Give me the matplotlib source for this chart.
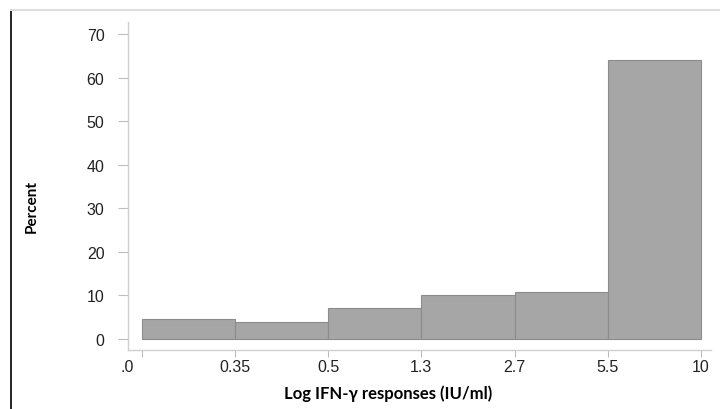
import matplotlib
matplotlib.use("Agg")
import matplotlib.pyplot as plt
from matplotlib.lines import Line2D
import matplotlib.transforms as mtransforms

edge_labels = [".0", "0.35", "0.5", "1.3", "2.7", "5.5", "10"]
percents = [4.5, 3.8, 7.1, 10.1, 10.8, 64.0]
y_ticks = [0, 10, 20, 30, 40, 50, 60, 70]

plt.rcParams['font.family'] = ['Liberation Sans', 'DejaVu Sans']

fig = plt.figure(figsize=(7.2, 4.1), dpi=100)
ax = fig.add_axes([128/720, (410-351)/410, 583/720, 328/410])

edges = list(range(len(edge_labels)))
ax.bar(edges[:-1], percents, width=1.0, align='edge', color='#a6a6a6',
       edgecolor='#8c8c8c', linewidth=0.8)

ax.set_xlim(-0.145, 6.107)
ax.set_ylim(-2.52, 72.75)
ax.set_xticks(edges)
ax.set_xticklabels(edge_labels, fontsize=11.5, color='#222222', family='Liberation Sans')
ax.set_yticks(y_ticks)
ax.set_yticklabels([str(v) for v in y_ticks], fontsize=11.5, color='#222222', family='Liberation Sans')

for s in ['top', 'right']:
    ax.spines[s].set_visible(False)
for s in ['left', 'bottom']:
    ax.spines[s].set_color('#cfcfcf')
    ax.spines[s].set_linewidth(1.0)
ax.tick_params(axis='y', color='#bdbdbd', length=7, width=0.8, pad=10)
ax.tick_params(axis='x', color='#bdbdbd', length=5, width=0.8, pad=1.5)

# shift the first x label to the left
lbl = ax.get_xticklabels()[0]
lbl.set_transform(lbl.get_transform() + mtransforms.ScaledTranslation(-0.145, 0, fig.dpi_scale_trans))

fig.text(32/720, 1 - 207/410, "Percent", rotation=90, ha='center', va='center',
         fontsize=11, fontweight='bold', family=['Lato', 'DejaVu Sans'])
fig.text(388/720, 1 - 394/410, "Log IFN-γ responses (IU/ml)", ha='center', va='center',
         fontsize=12, fontweight='bold', family=['Lato', 'DejaVu Sans'])

# outer frame lines
fig.add_artist(Line2D([11/720, 11/720], [0, 1 - 11/410], transform=fig.transFigure,
                      color='black', linewidth=1.2))
fig.add_artist(Line2D([11/720, 1], [1 - 11/410, 1 - 11/410], transform=fig.transFigure,
                      color='#dddddd', linewidth=1.5))

fig.savefig("out.png", dpi=100)
